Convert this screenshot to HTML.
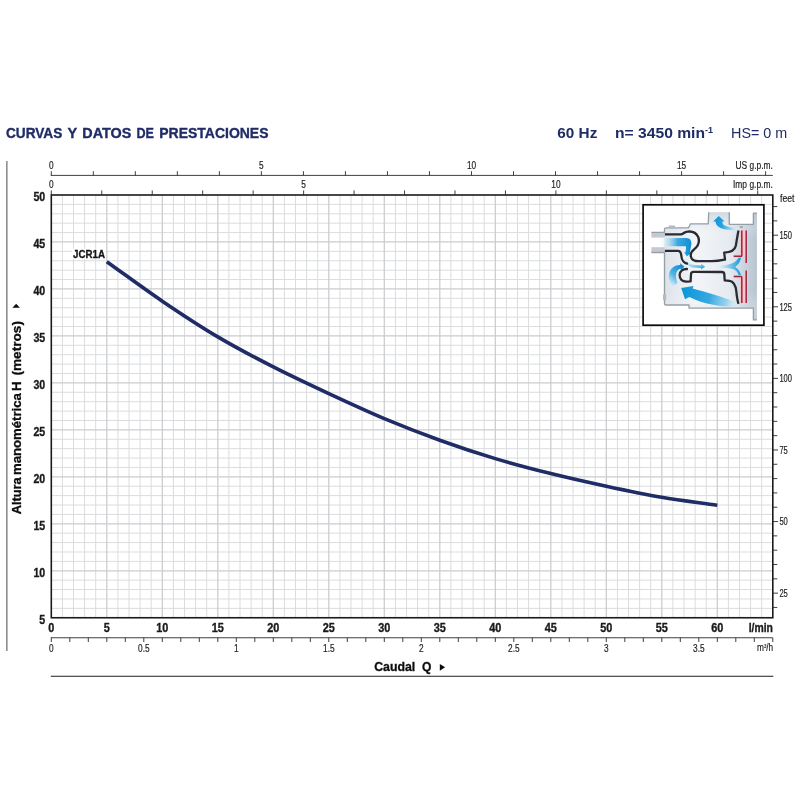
<!DOCTYPE html>
<html lang="es"><head><meta charset="utf-8"><title>Curvas y datos de prestaciones</title>
<style>html,body{margin:0;padding:0;background:#fff}svg{display:block;will-change:transform}</style></head>
<body>
<svg width="800" height="800" viewBox="0 0 800 800" font-family="'Liberation Sans', sans-serif">
<rect width="800" height="800" fill="#fff"/>
<path d="M62.40 195.00V617.75M73.50 195.00V617.75M84.60 195.00V617.75M95.70 195.00V617.75M117.90 195.00V617.75M129.00 195.00V617.75M140.10 195.00V617.75M151.20 195.00V617.75M173.40 195.00V617.75M184.50 195.00V617.75M195.60 195.00V617.75M206.70 195.00V617.75M228.90 195.00V617.75M240.00 195.00V617.75M251.10 195.00V617.75M262.20 195.00V617.75M284.40 195.00V617.75M295.50 195.00V617.75M306.60 195.00V617.75M317.70 195.00V617.75M339.90 195.00V617.75M351.00 195.00V617.75M362.10 195.00V617.75M373.20 195.00V617.75M395.40 195.00V617.75M406.50 195.00V617.75M417.60 195.00V617.75M428.70 195.00V617.75M450.90 195.00V617.75M462.00 195.00V617.75M473.10 195.00V617.75M484.20 195.00V617.75M506.40 195.00V617.75M517.50 195.00V617.75M528.60 195.00V617.75M539.70 195.00V617.75M561.90 195.00V617.75M573.00 195.00V617.75M584.10 195.00V617.75M595.20 195.00V617.75M617.40 195.00V617.75M628.50 195.00V617.75M639.60 195.00V617.75M650.70 195.00V617.75M672.90 195.00V617.75M684.00 195.00V617.75M695.10 195.00V617.75M706.20 195.00V617.75M728.40 195.00V617.75M739.50 195.00V617.75M750.60 195.00V617.75M761.70 195.00V617.75M51.30 608.36H772.80M51.30 598.96H772.80M51.30 589.57H772.80M51.30 580.17H772.80M51.30 561.38H772.80M51.30 551.99H772.80M51.30 542.59H772.80M51.30 533.20H772.80M51.30 514.41H772.80M51.30 505.02H772.80M51.30 495.62H772.80M51.30 486.23H772.80M51.30 467.44H772.80M51.30 458.04H772.80M51.30 448.65H772.80M51.30 439.26H772.80M51.30 420.47H772.80M51.30 411.07H772.80M51.30 401.68H772.80M51.30 392.28H772.80M51.30 373.49H772.80M51.30 364.10H772.80M51.30 354.71H772.80M51.30 345.31H772.80M51.30 326.52H772.80M51.30 317.13H772.80M51.30 307.73H772.80M51.30 298.34H772.80M51.30 279.55H772.80M51.30 270.16H772.80M51.30 260.76H772.80M51.30 251.37H772.80M51.30 232.58H772.80M51.30 223.18H772.80M51.30 213.79H772.80M51.30 204.39H772.80" stroke="#dbdcde" stroke-width="1.0" fill="none"/>
<path d="M106.80 195.00V617.75M162.30 195.00V617.75M217.80 195.00V617.75M273.30 195.00V617.75M328.80 195.00V617.75M384.30 195.00V617.75M439.80 195.00V617.75M495.30 195.00V617.75M550.80 195.00V617.75M606.30 195.00V617.75M661.80 195.00V617.75M717.30 195.00V617.75M51.30 570.78H772.80M51.30 523.81H772.80M51.30 476.83H772.80M51.30 429.86H772.80M51.30 382.89H772.80M51.30 335.92H772.80M51.30 288.94H772.80M51.30 241.97H772.80" stroke="#cbcccf" stroke-width="1.25" fill="none"/>
<path d="M106.80 261.70C125.30 274.85 143.80 288.63 162.30 301.16C180.80 313.68 199.30 325.90 217.80 336.86C236.30 347.82 254.80 357.46 273.30 366.92C291.80 376.38 310.30 384.99 328.80 393.60C347.30 402.21 365.80 410.82 384.30 418.59C402.80 426.35 421.30 433.52 439.80 440.20C458.30 446.87 476.80 453.05 495.30 458.61C513.80 464.17 532.30 468.94 550.80 473.55C569.30 478.15 587.80 482.27 606.30 486.23C624.80 490.19 643.30 494.13 661.80 497.31C680.30 500.49 698.80 502.64 717.30 505.30" stroke="#1f2c66" stroke-width="3.6" fill="none"/>
<rect x="51.30" y="195.00" width="721.50" height="422.75" fill="none" stroke="#1b1b1b" stroke-width="1.6"/>
<path d="M6.9 161V651" stroke="#4a4a4a" stroke-width="1"/>
<path d="M50.80 676.25H773.30" stroke="#1c1c1c" stroke-width="1"/>
<text x="6.00" y="138.10" font-size="15.20" text-anchor="start" font-weight="bold" fill="#1f2c66" stroke="#1f2c66" stroke-width="0.35" textLength="56.3" lengthAdjust="spacingAndGlyphs">CURVAS</text>
<text x="67.50" y="138.10" font-size="15.20" text-anchor="start" font-weight="bold" fill="#1f2c66" stroke="#1f2c66" stroke-width="0.35" textLength="9.7" lengthAdjust="spacingAndGlyphs">Y</text>
<text x="82.30" y="138.10" font-size="15.20" text-anchor="start" font-weight="bold" fill="#1f2c66" stroke="#1f2c66" stroke-width="0.35" textLength="49.0" lengthAdjust="spacingAndGlyphs">DATOS</text>
<text x="136.50" y="138.10" font-size="15.20" text-anchor="start" font-weight="bold" fill="#1f2c66" stroke="#1f2c66" stroke-width="0.35" textLength="17.5" lengthAdjust="spacingAndGlyphs">DE</text>
<text x="159.30" y="138.10" font-size="15.20" text-anchor="start" font-weight="bold" fill="#1f2c66" stroke="#1f2c66" stroke-width="0.35" textLength="109.2" lengthAdjust="spacingAndGlyphs">PRESTACIONES</text>
<text x="557.30" y="137.80" font-size="14.80" text-anchor="start" font-weight="bold" fill="#1f2c66" textLength="40" lengthAdjust="spacingAndGlyphs">60 Hz</text>
<text x="615.00" y="137.80" font-size="14.80" text-anchor="start" font-weight="bold" fill="#1f2c66" textLength="98" lengthAdjust="spacingAndGlyphs">n= 3450 min<tspan font-size="8.5" dy="-4.6">-1</tspan></text>
<text x="731.00" y="137.80" font-size="14.80" text-anchor="start" fill="#1f2c66" textLength="56.3" lengthAdjust="spacingAndGlyphs">HS= 0 m</text>
<path d="M50.80 175.4H772.80M51.30 171.2V175.4M93.32 171.2V175.4M135.34 171.2V175.4M177.35 171.2V175.4M219.37 171.2V175.4M261.39 171.2V175.4M303.41 171.2V175.4M345.43 171.2V175.4M387.44 171.2V175.4M429.46 171.2V175.4M471.48 171.2V175.4M513.50 171.2V175.4M555.52 171.2V175.4M597.53 171.2V175.4M639.55 171.2V175.4M681.57 171.2V175.4M723.59 171.2V175.4M765.61 171.2V175.4" stroke="#2a2a2a" stroke-width="0.9" fill="none"/>
<text transform="translate(51.30 168.80) scale(0.830 1)" font-size="10.00" text-anchor="middle" fill="#1c1c1c" stroke="#1c1c1c" stroke-width="0.18">0</text>
<text transform="translate(261.39 168.80) scale(0.830 1)" font-size="10.00" text-anchor="middle" fill="#1c1c1c" stroke="#1c1c1c" stroke-width="0.18">5</text>
<text transform="translate(471.48 168.80) scale(0.830 1)" font-size="10.00" text-anchor="middle" fill="#1c1c1c" stroke="#1c1c1c" stroke-width="0.18">10</text>
<text transform="translate(681.57 168.80) scale(0.830 1)" font-size="10.00" text-anchor="middle" fill="#1c1c1c" stroke="#1c1c1c" stroke-width="0.18">15</text>
<text x="735.50" y="168.80" font-size="10.40" text-anchor="start" fill="#1c1c1c" stroke="#1c1c1c" stroke-width="0.18" textLength="37.3" lengthAdjust="spacingAndGlyphs">US g.p.m.</text>
<path d="M51.30 190.4V195M101.76 190.4V195M152.22 190.4V195M202.68 190.4V195M253.15 190.4V195M303.61 190.4V195M354.07 190.4V195M404.53 190.4V195M454.99 190.4V195M505.45 190.4V195M555.92 190.4V195M606.38 190.4V195M656.84 190.4V195M707.30 190.4V195M757.76 190.4V195" stroke="#2a2a2a" stroke-width="0.9" fill="none"/>
<text transform="translate(51.30 188.20) scale(0.830 1)" font-size="10.00" text-anchor="middle" fill="#1c1c1c" stroke="#1c1c1c" stroke-width="0.18">0</text>
<text transform="translate(303.61 188.20) scale(0.830 1)" font-size="10.00" text-anchor="middle" fill="#1c1c1c" stroke="#1c1c1c" stroke-width="0.18">5</text>
<text transform="translate(555.92 188.20) scale(0.830 1)" font-size="10.00" text-anchor="middle" fill="#1c1c1c" stroke="#1c1c1c" stroke-width="0.18">10</text>
<text x="733.00" y="188.40" font-size="10.40" text-anchor="start" fill="#1c1c1c" stroke="#1c1c1c" stroke-width="0.18" textLength="39.8" lengthAdjust="spacingAndGlyphs">Imp g.p.m.</text>
<text transform="translate(45.20 623.65) scale(0.870 1)" font-size="12.20" text-anchor="end" font-weight="bold" fill="#1a1a1a" stroke="#1a1a1a" stroke-width="0.35">5</text>
<text transform="translate(45.20 576.68) scale(0.870 1)" font-size="12.20" text-anchor="end" font-weight="bold" fill="#1a1a1a" stroke="#1a1a1a" stroke-width="0.35">10</text>
<text transform="translate(45.20 529.71) scale(0.870 1)" font-size="12.20" text-anchor="end" font-weight="bold" fill="#1a1a1a" stroke="#1a1a1a" stroke-width="0.35">15</text>
<text transform="translate(45.20 482.73) scale(0.870 1)" font-size="12.20" text-anchor="end" font-weight="bold" fill="#1a1a1a" stroke="#1a1a1a" stroke-width="0.35">20</text>
<text transform="translate(45.20 435.76) scale(0.870 1)" font-size="12.20" text-anchor="end" font-weight="bold" fill="#1a1a1a" stroke="#1a1a1a" stroke-width="0.35">25</text>
<text transform="translate(45.20 388.79) scale(0.870 1)" font-size="12.20" text-anchor="end" font-weight="bold" fill="#1a1a1a" stroke="#1a1a1a" stroke-width="0.35">30</text>
<text transform="translate(45.20 341.82) scale(0.870 1)" font-size="12.20" text-anchor="end" font-weight="bold" fill="#1a1a1a" stroke="#1a1a1a" stroke-width="0.35">35</text>
<text transform="translate(45.20 294.84) scale(0.870 1)" font-size="12.20" text-anchor="end" font-weight="bold" fill="#1a1a1a" stroke="#1a1a1a" stroke-width="0.35">40</text>
<text transform="translate(45.20 247.87) scale(0.870 1)" font-size="12.20" text-anchor="end" font-weight="bold" fill="#1a1a1a" stroke="#1a1a1a" stroke-width="0.35">45</text>
<text transform="translate(45.20 200.90) scale(0.870 1)" font-size="12.20" text-anchor="end" font-weight="bold" fill="#1a1a1a" stroke="#1a1a1a" stroke-width="0.35">50</text>
<text transform="translate(51.30 631.50) scale(0.880 1)" font-size="12.40" text-anchor="middle" font-weight="bold" fill="#1a1a1a" stroke="#1a1a1a" stroke-width="0.35">0</text>
<text transform="translate(106.80 631.50) scale(0.880 1)" font-size="12.40" text-anchor="middle" font-weight="bold" fill="#1a1a1a" stroke="#1a1a1a" stroke-width="0.35">5</text>
<text transform="translate(162.30 631.50) scale(0.880 1)" font-size="12.40" text-anchor="middle" font-weight="bold" fill="#1a1a1a" stroke="#1a1a1a" stroke-width="0.35">10</text>
<text transform="translate(217.80 631.50) scale(0.880 1)" font-size="12.40" text-anchor="middle" font-weight="bold" fill="#1a1a1a" stroke="#1a1a1a" stroke-width="0.35">15</text>
<text transform="translate(273.30 631.50) scale(0.880 1)" font-size="12.40" text-anchor="middle" font-weight="bold" fill="#1a1a1a" stroke="#1a1a1a" stroke-width="0.35">20</text>
<text transform="translate(328.80 631.50) scale(0.880 1)" font-size="12.40" text-anchor="middle" font-weight="bold" fill="#1a1a1a" stroke="#1a1a1a" stroke-width="0.35">25</text>
<text transform="translate(384.30 631.50) scale(0.880 1)" font-size="12.40" text-anchor="middle" font-weight="bold" fill="#1a1a1a" stroke="#1a1a1a" stroke-width="0.35">30</text>
<text transform="translate(439.80 631.50) scale(0.880 1)" font-size="12.40" text-anchor="middle" font-weight="bold" fill="#1a1a1a" stroke="#1a1a1a" stroke-width="0.35">35</text>
<text transform="translate(495.30 631.50) scale(0.880 1)" font-size="12.40" text-anchor="middle" font-weight="bold" fill="#1a1a1a" stroke="#1a1a1a" stroke-width="0.35">40</text>
<text transform="translate(550.80 631.50) scale(0.880 1)" font-size="12.40" text-anchor="middle" font-weight="bold" fill="#1a1a1a" stroke="#1a1a1a" stroke-width="0.35">45</text>
<text transform="translate(606.30 631.50) scale(0.880 1)" font-size="12.40" text-anchor="middle" font-weight="bold" fill="#1a1a1a" stroke="#1a1a1a" stroke-width="0.35">50</text>
<text transform="translate(661.80 631.50) scale(0.880 1)" font-size="12.40" text-anchor="middle" font-weight="bold" fill="#1a1a1a" stroke="#1a1a1a" stroke-width="0.35">55</text>
<text transform="translate(717.30 631.50) scale(0.880 1)" font-size="12.40" text-anchor="middle" font-weight="bold" fill="#1a1a1a" stroke="#1a1a1a" stroke-width="0.35">60</text>
<text x="748.70" y="631.50" font-size="12.40" text-anchor="start" font-weight="bold" fill="#1a1a1a" stroke="#1a1a1a" stroke-width="0.35" textLength="24.3" lengthAdjust="spacingAndGlyphs">l/min</text>
<path d="M50.80 637.75H772.80M51.30 637.75V642M69.80 637.75V642M88.30 637.75V642M106.80 637.75V642M125.30 637.75V642M143.80 637.75V642M162.30 637.75V642M180.80 637.75V642M199.30 637.75V642M217.80 637.75V642M236.30 637.75V642M254.80 637.75V642M273.30 637.75V642M291.80 637.75V642M310.30 637.75V642M328.80 637.75V642M347.30 637.75V642M365.80 637.75V642M384.30 637.75V642M402.80 637.75V642M421.30 637.75V642M439.80 637.75V642M458.30 637.75V642M476.80 637.75V642M495.30 637.75V642M513.80 637.75V642M532.30 637.75V642M550.80 637.75V642M569.30 637.75V642M587.80 637.75V642M606.30 637.75V642M624.80 637.75V642M643.30 637.75V642M661.80 637.75V642M680.30 637.75V642M698.80 637.75V642M717.30 637.75V642M735.80 637.75V642M754.30 637.75V642M772.80 637.75V642" stroke="#2a2a2a" stroke-width="0.9" fill="none"/>
<text transform="translate(51.30 651.80) scale(0.830 1)" font-size="10.00" text-anchor="middle" fill="#1c1c1c" stroke="#1c1c1c" stroke-width="0.18">0</text>
<text transform="translate(143.80 651.80) scale(0.830 1)" font-size="10.00" text-anchor="middle" fill="#1c1c1c" stroke="#1c1c1c" stroke-width="0.18">0.5</text>
<text transform="translate(236.30 651.80) scale(0.830 1)" font-size="10.00" text-anchor="middle" fill="#1c1c1c" stroke="#1c1c1c" stroke-width="0.18">1</text>
<text transform="translate(328.80 651.80) scale(0.830 1)" font-size="10.00" text-anchor="middle" fill="#1c1c1c" stroke="#1c1c1c" stroke-width="0.18">1.5</text>
<text transform="translate(421.30 651.80) scale(0.830 1)" font-size="10.00" text-anchor="middle" fill="#1c1c1c" stroke="#1c1c1c" stroke-width="0.18">2</text>
<text transform="translate(513.80 651.80) scale(0.830 1)" font-size="10.00" text-anchor="middle" fill="#1c1c1c" stroke="#1c1c1c" stroke-width="0.18">2.5</text>
<text transform="translate(606.30 651.80) scale(0.830 1)" font-size="10.00" text-anchor="middle" fill="#1c1c1c" stroke="#1c1c1c" stroke-width="0.18">3</text>
<text transform="translate(698.80 651.80) scale(0.830 1)" font-size="10.00" text-anchor="middle" fill="#1c1c1c" stroke="#1c1c1c" stroke-width="0.18">3.5</text>
<text x="757.00" y="651.30" font-size="10.40" text-anchor="start" fill="#1c1c1c" stroke="#1c1c1c" stroke-width="0.18" textLength="16.2" lengthAdjust="spacingAndGlyphs">m<tspan font-size="5.5" dy="-3">3</tspan><tspan dy="3">/h</tspan></text>
<text x="374.20" y="670.70" font-size="12.40" text-anchor="start" font-weight="bold" fill="#0c0c0c" stroke="#1a1a1a" stroke-width="0.35" textLength="41" lengthAdjust="spacingAndGlyphs">Caudal</text>
<text x="422.00" y="670.70" font-size="12.40" text-anchor="start" font-weight="bold" fill="#0c0c0c" stroke="#1a1a1a" stroke-width="0.35" textLength="9.4" lengthAdjust="spacingAndGlyphs">Q</text>
<path d="M439.8 663.9L445.1 667.3L439.8 670.7Z" fill="#0c0c0c"/>
<text transform="translate(20.6 514.2) rotate(-90)" font-size="13" font-weight="bold" fill="#0c0c0c" stroke="#0c0c0c" stroke-width="0.3" textLength="36.9" lengthAdjust="spacingAndGlyphs">Altura</text>
<text transform="translate(20.6 475.0) rotate(-90)" font-size="13" font-weight="bold" fill="#0c0c0c" stroke="#0c0c0c" stroke-width="0.3" textLength="81.9" lengthAdjust="spacingAndGlyphs">manométrica</text>
<text transform="translate(20.6 391.0) rotate(-90)" font-size="13" font-weight="bold" fill="#0c0c0c" stroke="#0c0c0c" stroke-width="0.3" textLength="9.7" lengthAdjust="spacingAndGlyphs">H</text>
<text transform="translate(20.6 375.6) rotate(-90)" font-size="13" font-weight="bold" fill="#0c0c0c" stroke="#0c0c0c" stroke-width="0.3" textLength="54.6" lengthAdjust="spacingAndGlyphs">(metros)</text>
<path d="M12.4 307.8L16.15 303.8L19.9 307.8Z" fill="#0c0c0c"/>
<path d="M772.80 607.45H777.30M772.80 593.14H778.00M772.80 578.82H777.30M772.80 564.50H777.30M772.80 550.19H777.30M772.80 535.87H777.30M772.80 521.55H778.00M772.80 507.23H777.30M772.80 492.92H777.30M772.80 478.60H777.30M772.80 464.28H777.30M772.80 449.97H778.00M772.80 435.65H777.30M772.80 421.33H777.30M772.80 407.01H777.30M772.80 392.70H777.30M772.80 378.38H778.00M772.80 364.06H777.30M772.80 349.75H777.30M772.80 335.43H777.30M772.80 321.11H777.30M772.80 306.79H778.00M772.80 292.48H777.30M772.80 278.16H777.30M772.80 263.84H777.30M772.80 249.53H777.30M772.80 235.21H778.00M772.80 220.89H777.30M772.80 206.57H777.30" stroke="#2a2a2a" stroke-width="0.9" fill="none"/>
<text x="779.40" y="596.94" font-size="10.40" text-anchor="start" fill="#1c1c1c" stroke="#1c1c1c" stroke-width="0.18" textLength="8.4" lengthAdjust="spacingAndGlyphs">25</text>
<text x="779.40" y="525.35" font-size="10.40" text-anchor="start" fill="#1c1c1c" stroke="#1c1c1c" stroke-width="0.18" textLength="8.4" lengthAdjust="spacingAndGlyphs">50</text>
<text x="779.40" y="453.77" font-size="10.40" text-anchor="start" fill="#1c1c1c" stroke="#1c1c1c" stroke-width="0.18" textLength="8.4" lengthAdjust="spacingAndGlyphs">75</text>
<text x="779.40" y="382.18" font-size="10.40" text-anchor="start" fill="#1c1c1c" stroke="#1c1c1c" stroke-width="0.18" textLength="12.6" lengthAdjust="spacingAndGlyphs">100</text>
<text x="779.40" y="310.59" font-size="10.40" text-anchor="start" fill="#1c1c1c" stroke="#1c1c1c" stroke-width="0.18" textLength="12.6" lengthAdjust="spacingAndGlyphs">125</text>
<text x="779.40" y="239.01" font-size="10.40" text-anchor="start" fill="#1c1c1c" stroke="#1c1c1c" stroke-width="0.18" textLength="12.6" lengthAdjust="spacingAndGlyphs">150</text>
<text x="780.00" y="202.00" font-size="10.40" text-anchor="start" fill="#1c1c1c" stroke="#1c1c1c" stroke-width="0.18" textLength="14.5" lengthAdjust="spacingAndGlyphs">feet</text>
<rect x="72" y="248.6" width="33.6" height="10.2" fill="#fff"/>
<text x="73.00" y="257.90" font-size="10.90" text-anchor="start" font-weight="bold" fill="#141414" stroke="#1a1a1a" stroke-width="0.35" textLength="32" lengthAdjust="spacingAndGlyphs">JCR1A</text>
<g id="inset">
<defs>
<linearGradient id="gb" x1="0" x2="1" y1="0" y2="0"><stop offset="0" stop-color="#dde3ea"/><stop offset="0.35" stop-color="#f3f5f8"/><stop offset="0.7" stop-color="#e6ebf0"/><stop offset="0.9" stop-color="#c4cfda"/><stop offset="1" stop-color="#b7c4d0"/></linearGradient>
<linearGradient id="gv" x1="0" x2="0" y1="0" y2="1"><stop offset="0" stop-color="#b9c6d3" stop-opacity="0.55"/><stop offset="0.25" stop-color="#fff" stop-opacity="0"/><stop offset="0.75" stop-color="#fff" stop-opacity="0"/><stop offset="1" stop-color="#c5d0db" stop-opacity="0.6"/></linearGradient>
<linearGradient id="gin" x1="0" x2="1" y1="0" y2="0"><stop offset="0" stop-color="#fff" stop-opacity="0"/><stop offset="0.25" stop-color="#cfe9f7" stop-opacity="0.6"/><stop offset="0.6" stop-color="#3aa9e0"/><stop offset="1" stop-color="#0f8fd2"/></linearGradient>
<linearGradient id="gout" gradientUnits="userSpaceOnUse" x1="741" y1="229" x2="716" y2="222"><stop offset="0" stop-color="#fff" stop-opacity="0"/><stop offset="0.4" stop-color="#8fd0ee"/><stop offset="0.75" stop-color="#2aa2de"/><stop offset="1" stop-color="#1399d9"/></linearGradient>
<linearGradient id="gbig" gradientUnits="userSpaceOnUse" x1="684" y1="290" x2="741" y2="306"><stop offset="0" stop-color="#0e96d8"/><stop offset="0.45" stop-color="#35a9e1"/><stop offset="0.75" stop-color="#8ccdee" stop-opacity="0.85"/><stop offset="1" stop-color="#fff" stop-opacity="0"/></linearGradient>
<linearGradient id="grec" x1="0" x2="0.6" y1="1" y2="0"><stop offset="0" stop-color="#fff" stop-opacity="0.9"/><stop offset="0.5" stop-color="#55b4e3"/><stop offset="1" stop-color="#0f90d3"/></linearGradient>
<linearGradient id="gcv" x1="0" x2="1" y1="0" y2="0"><stop offset="0" stop-color="#fff" stop-opacity="0"/><stop offset="0.6" stop-color="#7fc8eb"/><stop offset="1" stop-color="#1698d7"/></linearGradient>
<linearGradient id="gmid" x1="0" x2="1" y1="0" y2="1"><stop offset="0" stop-color="#fff" stop-opacity="0.7"/><stop offset="0.6" stop-color="#8fd0ee"/><stop offset="1" stop-color="#1a9ad8"/></linearGradient>
</defs>
<rect x="643.1" y="204.8" width="120.8" height="120.4" fill="#fff" stroke="#0d0d0d" stroke-width="1.7"/>
<path d="M664.5 232.4L664.5 229.6Q664.5 227.8 666.3 227.8L688.6 227.8L690.4 223.8L708.3 223.8L708.7 212.2L729.3 212.2L729.3 224.3L753.4 224.3L753.4 213.1L756.9 213.1L756.9 319.9L753.4 319.9L753.4 308.1L689 308.1L689 305L666 305Q664.5 305 664.5 303.5Z" fill="url(#gb)"/>
<path d="M664.5 232.4L664.5 229.6Q664.5 227.8 666.3 227.8L688.6 227.8L690.4 223.8L708.3 223.8L708.7 212.2L729.3 212.2L729.3 224.3L753.4 224.3L753.4 213.1L756.9 213.1L756.9 319.9L753.4 319.9L753.4 308.1L689 308.1L689 305L666 305Q664.5 305 664.5 303.5Z" fill="url(#gv)"/>
<rect x="651.4" y="232.4" width="13.4" height="5.2" fill="#c3cad1"/>
<rect x="651.4" y="247.2" width="13.4" height="5.3" fill="#c3cad1"/>
<path d="M651.4 232.4L664.5 232.4L664.5 229.6Q664.5 227.8 666.3 227.8L688.6 227.8L690.4 223.8L708.3 223.8L708.7 212.2M729.3 212.2L729.3 224.3L753.4 224.3L753.4 213.1L756.9 213.1M756.9 319.9L753.4 319.9L753.4 308.1L689 308.1L689 305L666 305Q664.5 305 664.5 303.5L664.5 252.5L651.4 252.5" fill="none" stroke="#979ea6" stroke-width="1.35" stroke-linejoin="round"/>
<rect x="668.8" y="225.6" width="6.2" height="1.2" fill="#a3aab2"/><rect x="670.6" y="226.8" width="2.6" height="2" fill="#b4bac1"/>
<rect x="663" y="294.4" width="3.2" height="5.8" fill="#b4bac1"/>
<rect x="739.8" y="226.3" width="3" height="1.4" fill="#8d949c"/>
<path d="M 656.9 238.3 L 686.6 238.1 C 690.6 238.3 691.9 241.4 691.2 245.3 C 690.6 248.8 690.0 251.0 689.8 252.9 L 690.8 253.3 L 686.8 256.2 L 684.0 252.1 L 685.4 252.4 C 685.8 249.7 686.6 247.5 685.6 246.2 L 656.9 246.3 Z" fill="url(#gin)"/>
<path d="M 685.0 256.2 C 686.2 260.6 688.8 263.7 692.8 264.8 L 701.1 265.4 L 701.1 263.7 L 705.2 266.8 L 701.1 269.6 L 701.1 267.9 L 691.9 267.4 C 687.5 265.9 684.0 261.5 683.1 257.1 Z" fill="url(#gmid)"/>
<path d="M 671.8 286.9 C 666.9 279.0 667.8 268.5 676.1 265.4 L 680.3 265.0 L 679.8 263.1 L 684.4 266.6 L 680.9 270.4 L 680.7 268.7 C 675.7 269.8 674.8 275.5 677.4 282.9 Z" fill="url(#grec)"/>
<path d="M 681.2 287.9 L 693.5 286.0 L 692.6 288.4 C 703.2 291.2 722.5 296.5 740.0 303.5 L 740.0 307.0 C 722.5 307.0 703.2 304.4 689.4 296.9 L 685.0 299.3 Z" fill="url(#gbig)"/>
<path d="M 718.8 216.0 L 724.7 221.4 L 722.3 221.4 C 722.3 225.4 726.2 227.3 740.2 228.4 L 739.8 230.2 C 726.2 230.2 715.8 228.9 715.6 221.4 L 713.1 221.4 Z" fill="url(#gout)"/>
<path d="M 712.0 266.6 C 722.5 265.4 730.4 265.0 734.8 261.9 C 737.8 259.8 739.1 257.1 739.3 254.9 L 741.3 256.2 C 741.0 260.6 738.2 265.0 735.2 266.9 C 739.1 269.4 740.9 272.9 741.3 277.2 L 739.6 278.6 C 739.1 274.6 737.4 271.1 734.3 269.4 C 730.4 268.1 722.5 267.8 712.0 267.3 Z" fill="url(#gcv)"/>
<rect x="741.5" y="230.4" width="5" height="25" fill="#f9c4cd"/><rect x="741.5" y="277" width="5" height="25.9" fill="#f9c4cd"/>
<path d="M733.7 256.2L741.2 256.2Q741.8 256.2 741.8 255.4L741.8 230.4M746.2 230.4L746.2 263M733.7 276.6L741.2 276.6Q741.8 276.6 741.8 277.4L741.8 302.9M746.2 270.5L746.2 302.9" fill="none" stroke="#f9c4cd" stroke-width="3.3"/>
<path d="M733.7 256.2L741.2 256.2Q741.8 256.2 741.8 255.4L741.8 230.4M746.2 230.4L746.2 263M733.7 276.6L741.2 276.6Q741.8 276.6 741.8 277.4L741.8 302.9M746.2 270.5L746.2 302.9" fill="none" stroke="#9a263b" stroke-width="1.5"/>
<path d="M 664.9 234.4 L 680.9 234.4 C 683.1 234.4 684.0 231.9 687.5 231.6 C 691.9 231.1 696.2 232.6 698.2 237.0 C 699.8 241.4 698.4 245.8 694.1 249.4 C 691.0 251.9 689.7 255.4 691.9 258.9 C 693.2 260.8 695.4 261.2 698.0 261.2 L 712.0 261.2 C 717.2 261.1 720.8 260.4 725.0 259.6 L 724.2 252.6 C 730.4 252.4 734.8 250.6 735.8 245.8 C 736.7 240.5 737.5 235.2 738.5 230.4 M 664.9 250.8 L 677.9 250.8 C 680.1 250.8 680.9 252.3 681.2 254.9 C 681.5 258.9 682.2 262.8 687.9 263.9 M 687.9 269.1 C 683.1 268.5 679.6 271.1 679.6 275.1 C 679.6 279.0 682.2 281.6 686.2 281.6 L 690.6 281.4 L 691.0 274.2 C 691.0 272.4 691.9 271.8 693.6 271.8 L 721.6 272.0 C 723.5 272.0 724.2 272.9 724.3 274.2 L 724.7 280.3 L 729.5 280.9 C 733.9 281.6 735.6 285.1 736.3 291.2 C 736.9 297.4 737.8 301.8 738.5 303.8" fill="none" stroke="#292b30" stroke-width="2.3" stroke-linejoin="round"/>
</g>

</svg>
</body></html>
